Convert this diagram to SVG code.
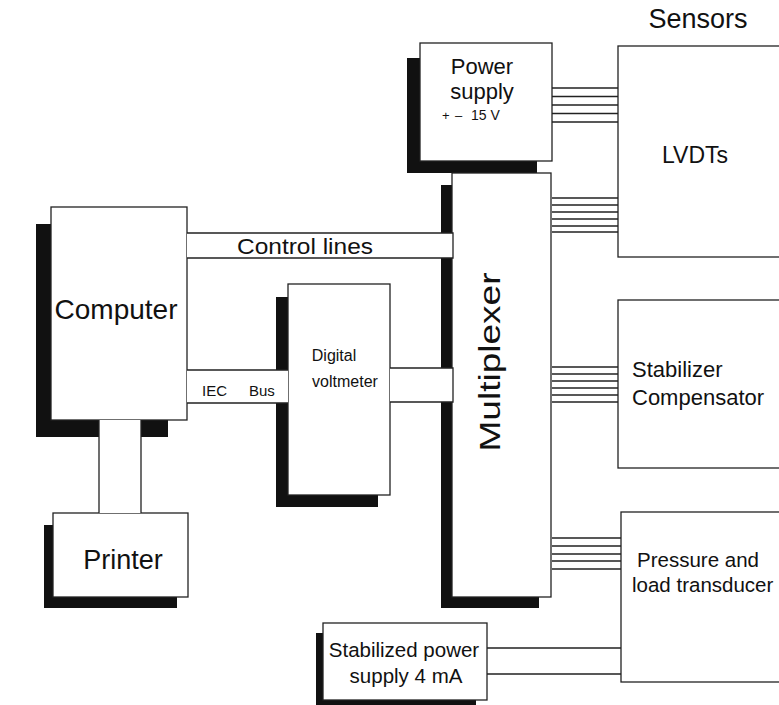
<svg xmlns="http://www.w3.org/2000/svg" width="779" height="705" viewBox="0 0 779 705">
<style>
.box{fill:#fff;stroke:#222;stroke-width:1.3}
.sh{fill:#111}
.ln{stroke:#222;stroke-width:1.3;fill:none}
.bus{fill:#fff;stroke:none}
.t{font-family:"Liberation Sans",Arial,Helvetica,sans-serif;fill:#111}
</style>
<rect width="779" height="705" fill="#fff"/>
<g id="sensors-label"><text class="t" x="698" y="28" font-size="27" text-anchor="middle">Sensors</text></g>
<g id="power-supply">
<rect class="sh" x="407" y="58" width="130" height="115"/>
<rect class="box" x="420" y="43" width="132" height="118"/>
<text class="t" x="482" y="74" font-size="22" text-anchor="middle">Power</text>
<text class="t" x="482" y="99" font-size="22" text-anchor="middle">supply</text>
<text class="t" x="442" y="120" font-size="13">+</text>
<text class="t" x="455" y="120" font-size="13">–</text>
<text class="t" x="471" y="120" font-size="14">15 V</text>
</g>
<g id="multiplexer">
<rect class="sh" x="441" y="185" width="98" height="423"/>
<rect class="box" x="452" y="173" width="99" height="424"/>
<text class="t" transform="translate(500,362) rotate(-90)" font-size="29" text-anchor="middle" textLength="179" lengthAdjust="spacingAndGlyphs">Multiplexer</text>
</g>
<g id="computer">
<rect class="sh" x="36" y="224" width="132" height="213"/>
<rect class="box" x="51" y="207" width="136" height="213"/>
<text class="t" x="116" y="319" font-size="28" text-anchor="middle">Computer</text>
</g>
<g id="dvm">
<rect class="sh" x="276" y="297" width="102" height="210"/>
<rect class="box" x="288" y="284" width="102" height="211"/>
<text class="t" x="334" y="361" font-size="16" text-anchor="middle">Digital</text>
<text class="t" x="345" y="387" font-size="16" text-anchor="middle">voltmeter</text>
</g>
<g id="printer">
<rect class="sh" x="44" y="525" width="133" height="83"/>
<rect class="box" x="53" y="513" width="135" height="84"/>
<text class="t" x="123" y="569" font-size="27" text-anchor="middle">Printer</text>
</g>
<g id="lvdts">
<rect class="box" x="618" y="46" width="180" height="211"/>
<text class="t" x="695" y="163" font-size="23" text-anchor="middle">LVDTs</text>
</g>
<g id="stabilizer">
<rect class="box" x="618" y="300" width="180" height="168"/>
<text class="t" x="632" y="377" font-size="22">Stabilizer</text>
<text class="t" x="632" y="405" font-size="22">Compensator</text>
</g>
<g id="pressure">
<rect class="box" x="621" y="512" width="180" height="170"/>
<text class="t" x="637" y="567" font-size="20.5">Pressure and</text>
<text class="t" x="632" y="592" font-size="20.5">load transducer</text>
</g>
<g id="stab-power">
<rect class="sh" x="316" y="633" width="160" height="80"/>
<rect class="box" x="323" y="623" width="164" height="77"/>
<text class="t" x="404" y="657" font-size="20.5" text-anchor="middle">Stabilized power</text>
<text class="t" x="406" y="683" font-size="20.5" text-anchor="middle">supply 4 mA</text>
</g>
<g id="connectors">
<rect class="bus" x="187" y="233" width="266" height="25"/>
<path class="ln" d="M187,233 H453 V258 H187"/>
<text class="t" x="305" y="254" font-size="22" text-anchor="middle" textLength="136" lengthAdjust="spacingAndGlyphs">Control lines</text>
<rect class="bus" x="187" y="370" width="101" height="33"/>
<path class="ln" d="M187,370 H288 M187,403 H288"/>
<text class="t" x="202" y="396" font-size="15">IEC</text>
<text class="t" x="249" y="396" font-size="15">Bus</text>
<rect class="bus" x="390" y="368" width="63" height="34"/>
<path class="ln" d="M390,368 H453 V402 H390"/>
<rect class="bus" x="99" y="420" width="42" height="93"/>
<path class="ln" d="M99,420 V513 M141,420 V513"/>
<path class="ln" d="M552,88 H618 M552,96.5 H618 M552,105 H618 M552,113.5 H618 M552,122 H618"/>
<path class="ln" d="M552,198 H618 M552,205 H618 M552,212 H618 M552,219 H618 M552,226 H618 M552,232 H618"/>
<path class="ln" d="M552,367 H618 M552,374 H618 M552,381 H618 M552,388 H618 M552,395 H618 M552,402 H618"/>
<path class="ln" d="M552,538 H621 M552,546 H621 M552,554 H621 M552,561 H621"/>
<path class="ln" d="M552,569 H621" stroke-width="2.2"/>
<path class="ln" d="M487,648 H621 M487,674 H621"/>
</g>
</svg>
